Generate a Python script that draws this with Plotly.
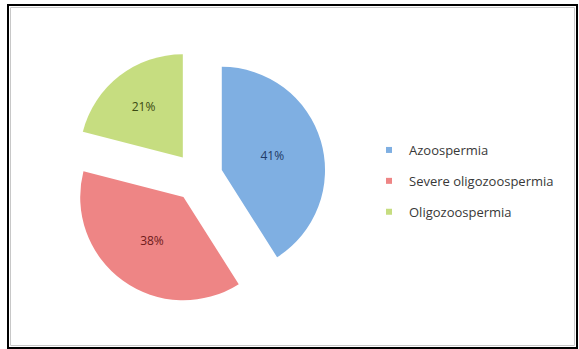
import plotly.graph_objects as go

categories = ["Azoospermia", "Severe oligozoospermia", "Oligozoospermia"]
values = [41, 38, 21]
colors = ["#7FAFE2", "#EE8585", "#C6DD80"]
text_colors = ["#1F3A66", "#6E1A1A", "#3A4A12"]

fig = go.Figure()
fig.add_trace(go.Pie(
    labels=categories,
    values=values,
    sort=False,
    direction="clockwise",
    rotation=0,
    pull=[0.24] * len(values),
    marker=dict(colors=colors, line=dict(width=0)),
    texttemplate="%{percent:.0%}",
    textposition="inside",
    insidetextorientation="horizontal",
    textfont=dict(family="Open Sans", size=12, color=text_colors),
    domain=dict(x=[70 / 579, 326 / 579], y=[1 - 305 / 349, 1 - 49 / 349]),
    showlegend=False,
    hoverinfo="label+percent",
))

for name, col in zip(categories, colors):
    fig.add_trace(go.Scatter(
        x=[None], y=[None], mode="markers", name=name,
        legendgroup=name,
        marker=dict(symbol="square", size=6, color=col),
    ))

fig.update_layout(
    width=579, height=349,
    margin=dict(l=0, r=0, t=0, b=0),
    paper_bgcolor="white", plot_bgcolor="white",
    xaxis=dict(visible=False), yaxis=dict(visible=False),
    legend=dict(
        x=369 / 579, y=1 - 135 / 349, xanchor="left", yanchor="top",
        font=dict(family="Open Sans", size=13, color="#383838"),
        tracegroupgap=11, itemwidth=30, bgcolor="rgba(0,0,0,0)",
    ),
    shapes=[
        dict(type="rect", xref="paper", yref="paper",
             x0=8 / 579, x1=577 / 579, y0=1 - 348 / 349, y1=1 - 5 / 349,
             line=dict(color="black", width=2)),
        dict(type="rect", xref="paper", yref="paper",
             x0=10.5 / 579, x1=574.5 / 579, y0=1 - 345.5 / 349, y1=1 - 7.5 / 349,
             line=dict(color="#C8C8C8", width=1)),
    ],
)

fig.write_html(
    "out.html",
    config={"displayModeBar": False},
    post_script="document.body.style.margin='0';document.body.style.overflow='hidden';",
)
